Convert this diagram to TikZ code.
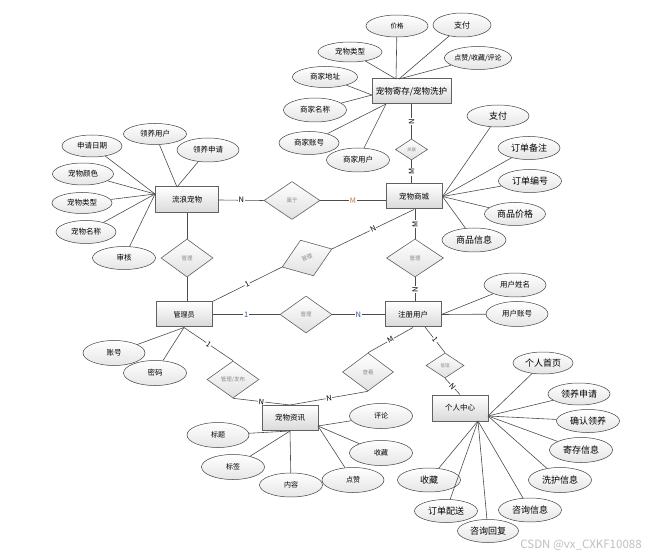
\documentclass[tikz,border=0pt]{standalone}
\usepackage{fontspec}
\setmainfont{Noto Sans CJK SC}
\usetikzlibrary{shapes.geometric}
\definecolor{cblue}{HTML}{2F5597}
\definecolor{corange}{HTML}{C07A30}
\begin{document}
\begin{tikzpicture}[x=1pt,y=-1pt,
  ent/.style={draw=black!62, line width=1pt, top color=white, bottom color=black!15, minimum width=56pt, minimum height=25pt, inner sep=0pt, font=\fontsize{7.5}{8}\selectfont},
  attr/.style={ellipse, draw=black!75, line width=0.5pt, top color=white, bottom color=black!10, minimum width=62pt, minimum height=23pt, inner sep=0pt, font=\fontsize{7.5}{8}\selectfont},
  big/.style={font=\fontsize{9}{10}\selectfont},
  small/.style={font=\fontsize{7}{8}\selectfont},
  rel/.style={diamond, draw=black!62, line width=0.6pt, top color=white, bottom color=black!12, minimum width=52pt, minimum height=38pt, inner sep=0pt, text=black!45, font=\fontsize{5.5}{6}\selectfont},
  lnk/.style={draw=black!70, line width=0.6pt},
  card/.style={fill=white, inner sep=0.6pt, font=\fontsize{7.5}{7.5}\selectfont},
]
\useasboundingbox (0,0) rectangle (657,559);

% ---------- entities ----------
\node[ent, minimum width=79pt, font=\fontsize{8.5}{9}\selectfont] (T) at (411.5,91.5) {宠物寄存/宠物洗护};
\node[ent] (S) at (414,196.5) {宠物商城};
\node[ent, minimum width=63pt, minimum height=26pt] (L) at (187,200) {流浪宠物};
\node[ent, font=\fontsize{7}{8}\selectfont] (A) at (184,314.5) {管理员};
\node[ent] (U) at (413,314.5) {注册用户};
\node[ent] (I) at (290,418) {宠物资讯};
\node[ent, minimum height=26pt] (P) at (460,408) {个人中心};

% ---------- relations ----------
\node[rel, minimum width=32pt, minimum height=21pt, font=\fontsize{4.5}{5}\selectfont] (R1) at (411.5,149.5) {关联};
\node[rel, minimum width=56pt] (R2) at (292,200.5) {属于};
\node[rel] (R3) at (187,258) {管理};
\node[rel, rotate=20, minimum width=53pt] (R4) at (307,258) {管理};
\node[rel, minimum width=57pt] (R5) at (415,258) {管理};
\node[rel, minimum height=37pt] (R6) at (306,314.5) {管理};
\node[rel, minimum height=37pt] (R7) at (233,379.5) {管理/发布};
\node[rel, minimum width=51pt] (R8) at (368,372) {查看};
\node[rel, minimum width=38pt, minimum height=25pt, font=\fontsize{4.5}{5}\selectfont] (R9) at (445,365.5) {管理};

% ---------- attributes of T ----------
\node[attr, minimum height=22pt, font=\fontsize{6.5}{7}\selectfont] (t1) at (397,26) {价格};
\node[attr, minimum width=58pt, minimum height=24pt, font=\fontsize{8}{9}\selectfont] (t2) at (462,25) {支付};
\node[attr, minimum width=64pt, minimum height=20pt] (t3) at (350,52) {宠物类型};
\node[attr, minimum width=63pt, small] (t4) at (478,58) {点赞/收藏/评论};
\node[attr, minimum width=65pt, minimum height=21pt] (t5) at (325,77) {商家地址};
\node[attr, minimum width=63pt, minimum height=24pt] (t6) at (315,110) {商家名称};
\node[attr, minimum width=60pt] (t7) at (309,143) {商家账号};
\node[attr, minimum width=63pt, minimum height=24pt] (t8) at (358,160) {商家用户};
\coordinate (Ttop) at (396,79);
\coordinate (Ttop2) at (399,79);
\coordinate (Tleft) at (372,95);
\coordinate (Tbot) at (386,104);
\draw[lnk] (t1) -- (Ttop);
\draw[lnk] (t3) -- (Ttop);
\draw[lnk] (t2) -- (Ttop2);
\draw[lnk] (t4) -- (Ttop2);
\draw[lnk] (t5) -- (Tleft);
\draw[lnk] (t6) -- (Tleft);
\draw[lnk] (t7) -- (Tbot);
\draw[lnk] (t8) -- (Tbot);

% ---------- attributes of L ----------
\node[attr, minimum width=60pt, minimum height=22pt] (l1) at (92,146) {申请日期};
\node[attr, minimum width=63pt, minimum height=21pt] (l2) at (155,134) {领养用户};
\node[attr, minimum height=24pt] (l3) at (208,150) {领养申请};
\node[attr, minimum width=61pt, minimum height=22pt] (l4) at (83,174) {宠物颜色};
\node[attr, minimum width=60pt, minimum height=21pt] (l5) at (82,203) {宠物类型};
\node[attr, minimum width=60pt] (l6) at (86,232) {宠物名称};
\node[attr, minimum width=63pt] (l7) at (124,258) {审核};
\coordinate (Ltop) at (177,187);
\coordinate (Lleft) at (155,194);
\draw[lnk] (l2) -- (Ltop);
\draw[lnk] (l3) -- (Ltop);
\foreach \n in {l1,l4,l5,l6,l7} \draw[lnk] (\n) -- (Lleft);

% ---------- attributes of S ----------
\node[attr, big, minimum height=22pt] (s1) at (498,116) {支付};
\node[attr, big] (s2) at (529,148) {订单备注};
\node[attr, big, minimum width=63pt] (s3) at (530,181) {订单编号};
\node[attr, big, minimum width=61pt] (s4) at (515,214) {商品价格};
\node[attr, big, minimum width=64pt, minimum height=24pt] (s5) at (474,240) {商品信息};
\foreach \n in {s1,s2,s3,s4,s5} \draw[lnk] (\n) -- (S.east);

% ---------- attributes of U ----------
\node[attr, minimum height=24pt] (u1) at (515,285) {用户姓名};
\node[attr, minimum height=25pt] (u2) at (517,314) {用户账号};
\draw[lnk] (u1) -- (U.east);
\draw[lnk] (u2) -- (U.east);

% ---------- attributes of A ----------
\node[attr, minimum height=25pt] (a1) at (114,353) {账号};
\node[attr, minimum width=63pt, minimum height=25pt] (a2) at (155,373) {密码};
\draw[lnk] (a1) -- (A.south);
\draw[lnk] (a2) -- (A.south);

% ---------- attributes of I ----------
\node[attr, small, minimum width=63pt, minimum height=25pt] (i1) at (381,416) {评论};
\node[attr, small, minimum width=63pt, minimum height=25pt] (i2) at (381,453) {收藏};
\node[attr, small, minimum height=25pt] (i3) at (353,480) {点赞};
\node[attr, small, minimum width=63pt, minimum height=24pt] (i4) at (291,485) {内容};
\node[attr, small, minimum width=63pt, minimum height=25pt] (i5) at (233,467) {标签};
\node[attr, small, minimum height=25pt] (i6) at (218,435) {标题};
\coordinate (Ir) at (318,426);
\foreach \n in {i1,i2,i3} \draw[lnk] (\n) -- (Ir);
\foreach \n in {i4,i5,i6} \draw[lnk] (\n) -- (I.south);

% ---------- attributes of P ----------
\node[attr, big, minimum width=60pt, minimum height=22pt] (p1) at (543,363) {个人首页};
\node[attr, big, minimum height=22pt] (p2) at (579,394) {领养申请};
\node[attr, big, minimum width=63pt] (p3) at (588,421) {确认领养};
\node[attr, big, minimum width=63pt, minimum height=25pt] (p4) at (581,450) {寄存信息};
\node[attr, big, minimum width=63pt, minimum height=25pt] (p5) at (560,480) {洗护信息};
\node[attr, big, minimum width=63pt, minimum height=24pt] (p6) at (530,510) {咨询信息};
\node[attr, big, minimum width=61pt] (p7) at (488,531) {咨询回复};
\node[attr, big, minimum width=63pt] (p8) at (446,511) {订单配送};
\node[attr, big, minimum width=63pt, minimum height=24pt] (p9) at (429,480) {收藏};
\coordinate (Pr) at (488,416);
\coordinate (Pb) at (478,421);
\foreach \n in {p1,p2,p3,p4,p5} \draw[lnk] (\n) -- (Pr);
\foreach \n in {p6,p7,p8,p9} \draw[lnk] (\n) -- (Pb);

% ---------- relationship connectors ----------
\draw[lnk] (T.south) -- node[card, rotate=90] {N} (R1.north);
\draw[lnk] (R1.south) -- node[card, rotate=90] {M} (R1.south |- S.north);
\draw[lnk] (L.east) -- node[card] {N} (R2.west);
\draw[lnk] (R2.east) -- node[card, text=corange] {M} (R2.east -| S.west);
\draw[lnk] (L.south) -- (R3.north);
\draw[lnk] (R3.south) -- (R3.south |- A.north);
\draw[lnk] (A.north east) -- node[card, sloped] {1} (R4.west);
\draw[lnk] (R4.east) -- node[card, sloped] {N} (S.south);
\draw[lnk] (R5.north |- S.south) -- node[card, rotate=90] {M} (R5.north);
\draw[lnk] (R5.south) -- node[card, rotate=90] {N} (R5.south |- U.north);
\draw[lnk] (A.east) -- node[card, text=cblue] {1} (R6.west);
\draw[lnk] (R6.east) -- node[card, text=cblue] {N} (U.west);
\draw[lnk] (A.south) -- node[card, sloped] {1} (R7.north);
\draw[lnk] (R7.south) -- node[card, sloped] {N} (I.north);
\draw[lnk] (I.north) -- node[card, sloped] {N} (R8.south);
\draw[lnk] (R8.north) -- node[card, sloped] {M} (U.south);
\coordinate (Ub) at (425,327);
\draw[lnk] (Ub) -- node[card, sloped] {1} (R9.north);
\draw[lnk] (R9.south) -- node[card, sloped] {N} (P.north);

% ---------- watermark ----------
\node[text=black!25, font=\fontsize{11.5}{12}\selectfont] (wm) at (581,545) {CSDN @vx\_CXKF10088};
\end{tikzpicture}
\end{document}
